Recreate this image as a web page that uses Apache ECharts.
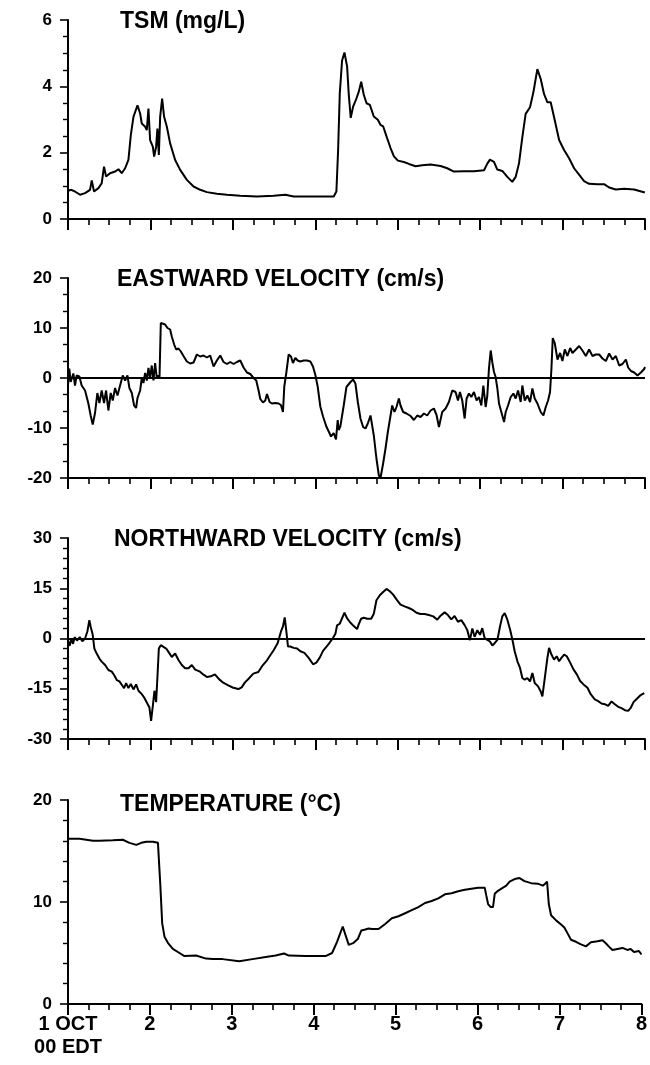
<!DOCTYPE html>
<html>
<head>
<meta charset="utf-8">
<script src="https://cdn.jsdelivr.net/npm/echarts@6/dist/echarts.min.js"></script>
<style>
  html, body { margin: 0; padding: 0; background: #fff; }
  #chart { width: 650px; height: 1065px; }
</style>
</head>
<body>
<div id="chart"></div>
<script>
// time axis: days of October (1 OCT 00 EDT .. 8)
var dayLabels = ['1 OCT\n00 EDT', '2', '3', '4', '5', '6', '7', '8'];
var panelTitles = ['TSM (mg/L)', 'EASTWARD VELOCITY (cm/s)', 'NORTHWARD VELOCITY (cm/s)', 'TEMPERATURE (\u00B0C)'];

// [day, value]
var tsm = [[1.00,0.85],[1.04,0.88],[1.085,0.83],[1.146,0.73],[1.207,0.78],[1.267,0.88],[1.288,1.16],[1.316,0.83],[1.369,0.93],[1.409,1.08],[1.437,1.58],[1.462,1.28],[1.51,1.38],[1.571,1.43],[1.612,1.5],[1.652,1.38],[1.693,1.53],[1.733,1.78],[1.762,2.53],[1.794,3.08],[1.843,3.43],[1.875,3.18],[1.895,2.88],[1.936,2.78],[1.956,2.68],[1.976,3.33],[1.996,2.38],[2.029,2.18],[2.045,1.88],[2.069,2.18],[2.085,2.73],[2.102,1.93],[2.118,3.08],[2.142,3.63],[2.166,3.08],[2.199,2.78],[2.239,2.28],[2.30,1.78],[2.361,1.48],[2.442,1.18],[2.523,0.98],[2.604,0.88],[2.685,0.81],[2.806,0.76],[2.928,0.73],[3.09,0.70],[3.292,0.68],[3.495,0.70],[3.637,0.73],[3.738,0.68],[3.981,0.68],[4.143,0.68],[4.224,0.68],[4.256,0.83],[4.277,2.08],[4.297,3.78],[4.325,4.78],[4.354,5.02],[4.386,4.6],[4.406,3.76],[4.43,3.05],[4.459,3.39],[4.50,3.64],[4.528,3.84],[4.557,4.14],[4.589,3.74],[4.622,3.49],[4.662,3.44],[4.71,3.09],[4.759,2.99],[4.791,2.84],[4.824,2.79],[4.864,2.49],[4.913,2.14],[4.954,1.89],[5.002,1.76],[5.075,1.72],[5.136,1.66],[5.217,1.59],[5.297,1.62],[5.399,1.64],[5.52,1.60],[5.601,1.53],[5.682,1.43],[5.804,1.44],[5.925,1.44],[6.047,1.47],[6.087,1.67],[6.119,1.79],[6.168,1.72],[6.208,1.49],[6.269,1.45],[6.33,1.27],[6.39,1.12],[6.431,1.27],[6.471,1.67],[6.512,2.47],[6.552,3.17],[6.605,3.37],[6.646,3.82],[6.694,4.52],[6.735,4.22],[6.775,3.77],[6.816,3.52],[6.856,3.52],[6.897,3.07],[6.958,2.38],[7.018,2.08],[7.079,1.83],[7.14,1.53],[7.2,1.34],[7.261,1.14],[7.322,1.06],[7.423,1.05],[7.504,1.05],[7.565,0.95],[7.646,0.89],[7.747,0.91],[7.868,0.89],[7.998,0.80]];

var eastVel = [[1.0,-1.5],[1.016,1.9],[1.032,-0.8],[1.065,0.9],[1.085,-1.5],[1.105,0.5],[1.138,0.3],[1.166,-1.5],[1.207,-2.5],[1.247,-5.1],[1.275,-7.5],[1.30,-9.3],[1.328,-7],[1.356,-3],[1.381,-5],[1.409,-2.5],[1.437,-5],[1.462,-2.5],[1.49,-6.5],[1.518,-3],[1.543,-4.5],[1.571,-2],[1.60,-3.5],[1.632,-1.5],[1.664,0.5],[1.693,-0.5],[1.721,0.5],[1.745,-2],[1.774,-3],[1.802,-5.5],[1.826,-6],[1.843,-4],[1.875,-2.5],[1.895,0],[1.915,-1],[1.936,1],[1.956,-0.5],[1.976,2],[1.996,0],[2.016,2.5],[2.037,-0.5],[2.057,3],[2.077,0],[2.098,0.5],[2.11,0],[2.126,11],[2.15,11.3],[2.178,10.7],[2.207,10],[2.239,9.7],[2.259,8.3],[2.288,6.7],[2.312,5.7],[2.34,5.9],[2.369,5.3],[2.401,4.4],[2.442,3.3],[2.482,2.9],[2.523,3.1],[2.563,4.7],[2.604,4.3],[2.644,4.5],[2.685,4.1],[2.725,4.5],[2.766,2.3],[2.806,3.5],[2.847,4.5],[2.887,3.2],[2.928,2.8],[2.968,3.2],[3.009,2.8],[3.049,3.2],[3.09,3.5],[3.13,2.1],[3.171,1.1],[3.211,0.8],[3.252,0],[3.284,-0.5],[3.312,-2.5],[3.333,-4.2],[3.365,-4.9],[3.393,-4.5],[3.414,-3.2],[3.446,-4.8],[3.474,-5.1],[3.515,-5],[3.555,-5.1],[3.583,-5.4],[3.608,-6.8],[3.624,-1.7],[3.648,1],[3.677,4.7],[3.705,4.3],[3.729,3],[3.758,4],[3.786,3.5],[3.818,3.3],[3.859,3.5],[3.90,3.5],[3.94,3.3],[3.972,2.3],[4.001,0.6],[4.029,-1.7],[4.061,-5.7],[4.094,-7.7],[4.134,-9.7],[4.163,-10.7],[4.191,-11.7],[4.223,-11],[4.251,-12.3],[4.272,-8.4],[4.284,-10.4],[4.304,-9.7],[4.345,-5.5],[4.378,-1.8],[4.427,-0.8],[4.459,-0.3],[4.487,-1.1],[4.516,-4.8],[4.548,-8.1],[4.58,-9.8],[4.609,-10.1],[4.637,-9.1],[4.67,-7.5],[4.69,-9.5],[4.71,-11.5],[4.742,-16.1],[4.771,-19.5],[4.791,-20],[4.823,-17.1],[4.852,-14.1],[4.88,-10.8],[4.913,-7.5],[4.933,-5.5],[4.961,-6.8],[4.985,-5.8],[5.014,-4.1],[5.034,-5.5],[5.066,-6.8],[5.107,-7.1],[5.156,-7.6],[5.196,-8.4],[5.237,-7.5],[5.277,-7.8],[5.318,-7.1],[5.358,-7.5],[5.399,-6.5],[5.439,-6.1],[5.471,-7.4],[5.5,-9.8],[5.54,-6.8],[5.581,-6.1],[5.621,-4.8],[5.662,-2.5],[5.702,-2.8],[5.731,-4.5],[5.755,-2.8],[5.783,-4.5],[5.812,-8.1],[5.836,-4.1],[5.864,-3.1],[5.893,-3.8],[5.925,-2.8],[5.957,-4.5],[5.986,-3.8],[6.014,-5.5],[6.039,-1.5],[6.067,-5.8],[6.087,-3.5],[6.107,1.9],[6.128,5.5],[6.148,3.1],[6.168,1.2],[6.188,0.2],[6.209,-2.1],[6.229,-5.1],[6.257,-6.8],[6.29,-8.8],[6.31,-6.8],[6.338,-5.5],[6.371,-3.8],[6.403,-3.1],[6.431,-4.1],[6.46,-2.5],[6.492,-4.8],[6.512,-1.5],[6.541,-4.5],[6.573,-3.5],[6.605,-4.8],[6.634,-2.1],[6.662,-4.1],[6.695,-5.1],[6.735,-6.8],[6.767,-7.5],[6.796,-5.8],[6.824,-4.5],[6.848,-2.8],[6.865,1.9],[6.881,8],[6.905,7],[6.938,3.7],[6.97,5],[6.998,3.4],[7.027,5.7],[7.059,4.4],[7.092,6],[7.12,5],[7.161,5.7],[7.201,6.4],[7.241,5.5],[7.282,4.4],[7.322,5.7],[7.363,4.4],[7.403,4.7],[7.444,4.7],[7.484,3.9],[7.525,3.4],[7.565,4.9],[7.606,3.7],[7.646,4.4],[7.687,2.5],[7.727,2.8],[7.768,3.7],[7.796,2.1],[7.829,1.4],[7.869,1.1],[7.909,0.5],[7.95,1.1],[7.99,1.8],[8.0,2.2]];

var northVel = [[1.0,-0.5],[1.02,-2.2],[1.04,-0.2],[1.061,-1.6],[1.081,0.4],[1.109,-0.6],[1.142,0.4],[1.174,-0.8],[1.207,0],[1.235,2.1],[1.259,5.5],[1.275,3.5],[1.30,1.1],[1.32,-3],[1.348,-4.5],[1.381,-6],[1.409,-6.9],[1.45,-7.9],[1.49,-9.4],[1.531,-9.9],[1.559,-10.9],[1.592,-12.4],[1.624,-12.8],[1.652,-13.8],[1.68,-14.8],[1.705,-13.3],[1.733,-14.8],[1.762,-13.6],[1.794,-15.2],[1.826,-13.7],[1.855,-15.6],[1.895,-16.6],[1.924,-17.6],[1.956,-19.1],[1.988,-20.6],[2.008,-24.6],[2.029,-20.1],[2.049,-15.6],[2.069,-19],[2.085,-11.5],[2.102,-3],[2.126,-2],[2.158,-2.5],[2.191,-3],[2.219,-4],[2.259,-5.5],[2.30,-4.5],[2.34,-6.4],[2.381,-7.9],[2.421,-8.9],[2.462,-8.9],[2.502,-7.9],[2.543,-9.3],[2.595,-9.8],[2.644,-10.8],[2.685,-11.5],[2.733,-11.3],[2.782,-10.7],[2.835,-12.2],[2.883,-13.2],[2.944,-14],[3.005,-14.7],[3.066,-15.1],[3.107,-14.6],[3.147,-13.1],[3.188,-12.1],[3.248,-10.5],[3.309,-10],[3.362,-8],[3.414,-6.5],[3.454,-5],[3.495,-3.5],[3.543,-1.4],[3.584,2.1],[3.608,3.6],[3.629,6.3],[3.649,2.1],[3.669,-2.4],[3.697,-2.4],[3.738,-2.8],[3.779,-3],[3.819,-3.8],[3.868,-4.3],[3.92,-5.8],[3.973,-7.7],[4.013,-7.2],[4.054,-5.7],[4.094,-3.7],[4.134,-2.5],[4.175,-1.2],[4.216,0.2],[4.244,1.4],[4.264,3.9],[4.297,4.4],[4.305,4.7],[4.354,7.7],[4.386,6.0],[4.427,4.7],[4.467,3.7],[4.507,2.8],[4.528,4.3],[4.556,5.9],[4.589,6.2],[4.629,5.9],[4.678,5.9],[4.71,7.4],[4.742,11.4],[4.783,12.9],[4.823,13.9],[4.864,14.8],[4.904,14.1],[4.945,13.1],[4.994,11.4],[5.034,10.1],[5.083,9.6],[5.135,9.1],[5.176,8.6],[5.228,7.7],[5.277,7.3],[5.326,7.3],[5.378,7.0],[5.431,6.6],[5.48,5.6],[5.52,6.8],[5.569,7.8],[5.609,7.0],[5.65,5.7],[5.69,6.7],[5.731,5.0],[5.771,5.5],[5.812,4.0],[5.844,2.5],[5.876,-0.5],[5.905,3.0],[5.933,0.5],[5.966,2.5],[5.998,1.1],[6.026,3.1],[6.055,0.1],[6.087,-0.4],[6.119,-0.9],[6.148,-2.1],[6.176,-1.4],[6.209,-0.4],[6.241,3.6],[6.269,6.6],[6.298,7.6],[6.33,5.6],[6.363,2.7],[6.391,-0.3],[6.419,-3.8],[6.452,-6.8],[6.484,-8.8],[6.512,-11.8],[6.541,-12.3],[6.573,-11.8],[6.605,-12.8],[6.634,-10.3],[6.662,-13.3],[6.703,-14.3],[6.735,-15.8],[6.755,-17.3],[6.784,-11.8],[6.816,-5.8],[6.836,-2.8],[6.865,-4.8],[6.897,-6.3],[6.929,-5.3],[6.958,-6.8],[6.986,-5.8],[7.019,-4.8],[7.051,-5.3],[7.092,-7.2],[7.132,-9.2],[7.173,-10.7],[7.213,-12.7],[7.254,-13.7],[7.302,-14.7],[7.343,-16.7],[7.391,-18.2],[7.432,-18.7],[7.472,-19.4],[7.513,-19.6],[7.553,-20.1],[7.594,-18.8],[7.634,-19.6],[7.675,-20.4],[7.715,-20.8],[7.756,-21.4],[7.796,-21.6],[7.829,-20.6],[7.861,-19.0],[7.902,-18.0],[7.942,-17.0],[7.991,-16.3]];

var temperature = [[1.0,16.2],[1.142,16.2],[1.223,16.1],[1.304,16.0],[1.385,16.0],[1.547,16.05],[1.669,16.1],[1.75,15.8],[1.834,15.6],[1.895,15.8],[1.956,15.9],[2.037,15.9],[2.098,15.8],[2.126,11.8],[2.15,7.9],[2.178,6.6],[2.219,6.0],[2.28,5.4],[2.361,5.0],[2.421,4.7],[2.563,4.75],[2.685,4.45],[2.766,4.4],[2.887,4.4],[3.09,4.2],[3.252,4.4],[3.414,4.6],[3.535,4.75],[3.637,4.95],[3.697,4.75],[3.9,4.7],[4.143,4.7],[4.224,5.0],[4.284,6.1],[4.354,7.6],[4.386,6.8],[4.427,5.8],[4.487,6.0],[4.54,6.4],[4.58,7.2],[4.629,7.3],[4.67,7.4],[4.71,7.35],[4.791,7.35],[4.872,7.85],[4.953,8.4],[5.034,8.6],[5.115,8.9],[5.196,9.2],[5.277,9.5],[5.358,9.9],[5.439,10.1],[5.52,10.35],[5.601,10.75],[5.682,10.85],[5.763,11.05],[5.844,11.2],[5.925,11.3],[6.006,11.4],[6.087,11.4],[6.107,10.6],[6.128,9.8],[6.16,9.5],[6.188,9.5],[6.209,10.8],[6.249,11.1],[6.31,11.4],[6.35,11.6],[6.391,12.0],[6.452,12.25],[6.512,12.35],[6.573,12.05],[6.654,11.85],[6.735,11.8],[6.796,11.6],[6.824,11.8],[6.848,12.0],[6.869,9.8],[6.897,8.7],[6.958,8.2],[7.019,7.8],[7.059,7.5],[7.1,6.9],[7.14,6.3],[7.201,6.1],[7.262,5.85],[7.322,5.65],[7.383,6.05],[7.464,6.15],[7.525,6.25],[7.565,5.95],[7.606,5.6],[7.646,5.3],[7.707,5.4],[7.768,5.5],[7.829,5.3],[7.869,5.4],[7.909,5.1],[7.97,5.2],[8.0,4.85]];

// per panel: y range, label step, minor ticks per step
var yMin = [0, -20, -30, 0];
var yMax = [6, 20, 30, 20];
var yStep = [2, 10, 15, 10];
var yMinor = [4, 3, 5, 5];
var seriesData = [tsm, eastVel, northVel, temperature];

var myChart = echarts.init(document.getElementById('chart'));

var gridTops = [20, 278, 538, 800];
var gridHeights = [199, 200, 201, 204];
var titleTops = [10, 268, 528, 793];
var titleLefts = [120, 117, 114, 120];

var labelFont = 'Liberation Sans, Arial, sans-serif';
var grids = [], xAxes = [], yAxes = [], series = [], titles = [];

for (var i = 0; i < 4; i++) {
    grids.push({ left: 68, right: 5, top: gridTops[i], height: gridHeights[i] });

    xAxes.push({
        type: 'value', gridIndex: i, min: 1, max: 8, interval: 1,
        axisLine: { show: true, onZero: false, lineStyle: { color: '#000', width: 2 } },
        axisTick: { show: true, length: 11, lineStyle: { color: '#000', width: 2 } },
        minorTick: { show: true, splitNumber: 4, length: 6, lineStyle: { color: '#000', width: 1.6 } },
        splitLine: { show: false },
        minorSplitLine: { show: false },
        axisLabel: {
            show: i === 3, color: '#000', fontFamily: labelFont, fontWeight: 'bold',
            fontSize: 20, lineHeight: 23, margin: 9,
            formatter: function (v) { return dayLabels[Math.round(v) - 1]; }
        }
    });

    yAxes.push({
        type: 'value', gridIndex: i, min: yMin[i], max: yMax[i], interval: yStep[i],
        axisLine: { show: true, onZero: false, lineStyle: { color: '#000', width: 2 } },
        axisTick: { show: true, length: 8, lineStyle: { color: '#000', width: 1.6 } },
        minorTick: { show: true, splitNumber: yMinor[i], length: 5, lineStyle: { color: '#000', width: 1.4 } },
        splitLine: { show: false },
        minorSplitLine: { show: false },
        axisLabel: { color: '#000', fontFamily: labelFont, fontWeight: 'bold', fontSize: 17, margin: 16 }
    });

    var s = {
        type: 'line', xAxisIndex: i, yAxisIndex: i,
        data: seriesData[i], showSymbol: false, symbol: 'none',
        lineStyle: { color: '#000', width: 2 },
        silent: true
    };
    // zero reference line on the velocity panels
    if (i === 1 || i === 2) {
        s.markLine = {
            silent: true, symbol: ['none', 'none'], label: { show: false },
            lineStyle: { color: '#000', type: 'solid', width: 2 },
            data: [{ yAxis: 0 }]
        };
    }
    series.push(s);

    titles.push({
        text: panelTitles[i], left: titleLefts[i], top: titleTops[i], padding: 0,
        textStyle: { fontFamily: labelFont, fontWeight: 'bold', fontSize: 23, color: '#000' }
    });
}

var option = {
    animation: false,
    backgroundColor: '#fff',
    title: titles,
    grid: grids,
    xAxis: xAxes,
    yAxis: yAxes,
    series: series
};

myChart.setOption(option);
</script>
</body>
</html>
